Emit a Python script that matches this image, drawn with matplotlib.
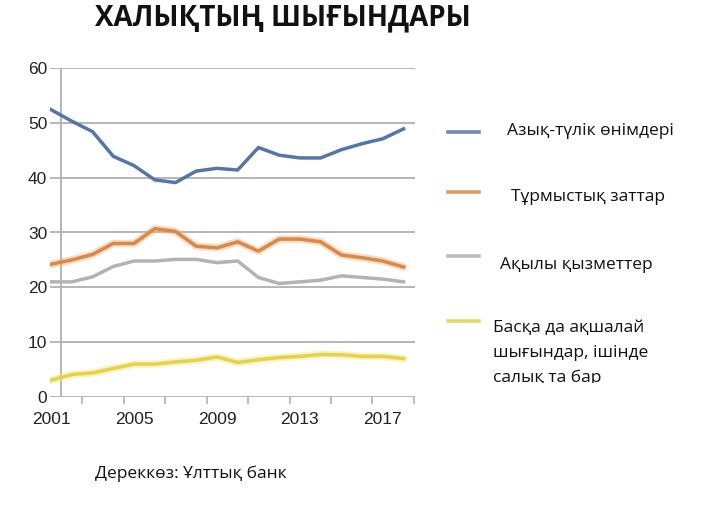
import matplotlib
matplotlib.use("Agg")
import matplotlib.pyplot as plt
from matplotlib.lines import Line2D
from matplotlib.transforms import Bbox

years = list(range(2001, 2019))
food = [52.4, 50.3, 48.4, 43.9, 42.2, 39.6, 39.1, 41.2, 41.7, 41.4, 45.5, 44.1, 43.6, 43.6, 45.1, 46.2, 47.1, 48.9]
goods = [24.2, 25.0, 26.0, 28.0, 28.0, 30.7, 30.2, 27.5, 27.2, 28.3, 26.6, 28.8, 28.8, 28.3, 25.9, 25.4, 24.8, 23.7]
services = [21.0, 21.0, 21.9, 23.8, 24.8, 24.8, 25.1, 25.1, 24.5, 24.8, 21.8, 20.7, 21.0, 21.3, 22.1, 21.8, 21.5, 21.0]
other = [3.05, 4.1, 4.4, 5.2, 6.0, 6.0, 6.4, 6.7, 7.3, 6.3, 6.8, 7.2, 7.4, 7.75, 7.7, 7.4, 7.4, 7.0]

series_labels = ["Азық-түлік өнімдері", "Тұрмыстық заттар", "Ақылы қызметтер",
                 "Басқа да ақшалай\nшығындар, ішінде\nсалық та бар"]
colors = ["#5476a6", "#d8884a", "#b3b3b3", "#e3d24a"]
glow = [None, "#f2b47a", None, "#f4e680"]
xtick_labels = [2001, 2005, 2009, 2013, 2017]
yticks = [0, 10, 20, 30, 40, 50, 60]

title = "ХАЛЫҚТЫҢ ШЫҒЫНДАРЫ"
source = "Дереккөз: Ұлттық банк"

W, H = 703, 511
fig = plt.figure(figsize=(W / 100, H / 100), dpi=100)
fig.patch.set_facecolor("white")

ax = fig.add_axes([50 / W, 1 - 397 / H, (415 - 50) / W, (397 - 68) / H])
ax.set_xlim(2000.95, 2018.55)
ax.set_ylim(0, 60)
for s in ax.spines.values():
    s.set_visible(False)

grid_c = "#b0b0b0"
for yv in yticks:
    ax.axhline(yv, color=grid_c, lw=1.3, zorder=1)
ax.plot([2001.5, 2001.5], [0, 60], color=grid_c, lw=1.3, zorder=1)

data = [food, goods, services, other]
for vals, c, g in zip(data, colors, glow):
    if g:
        ax.plot(years, vals, color=g, lw=5.5, alpha=0.45, solid_capstyle="round", zorder=2)
    ax.plot(years, vals, color=c, lw=2.5, solid_joinstyle="round", zorder=3)

ax.set_yticks(yticks)
ax.set_yticklabels([str(v) for v in yticks])
ax.set_xticks(xtick_labels)
ax.set_xticklabels([str(v) for v in xtick_labels])
ax.set_xticks([2002.5 + 2 * i for i in range(9)], minor=True)
ax.tick_params(axis="y", length=0, pad=2, labelsize=12.5, labelcolor="#222222")
ax.tick_params(axis="x", which="major", length=0, pad=11, labelsize=12.5, labelcolor="#222222")
ax.tick_params(axis="x", which="minor", length=5, width=1.2, color=grid_c, direction="out")
for lab in ax.get_xticklabels() + ax.get_yticklabels():
    lab.set_fontfamily(["Liberation Sans", "DejaVu Sans"])

fig.text(283 / W, 1 - 18 / H, title, ha="center", va="center",
         fontsize=20, fontweight="bold", family=["Open Sans", "DejaVu Sans"], color="#111111")

leg_y = [132, 192, 256, 321]
text_x = [507, 511, 500, 493]
text_y = [131, 197, 265, 330]
for i in range(4):
    fig.add_artist(Line2D([448 / W, 479 / W], [1 - leg_y[i] / H] * 2, color=colors[i],
                          lw=2.6, alpha=0.85, transform=fig.transFigure))
    if i < 3:
        fig.text(text_x[i] / W, 1 - text_y[i] / H, series_labels[i], ha="left", va="center",
                 fontsize=12.5, family=["Open Sans", "DejaVu Sans"], color="#111111")
    else:
        t = fig.text(text_x[i] / W, 1 - 320 / H, series_labels[i], ha="left", va="top",
                     fontsize=12.5, family=["Open Sans", "DejaVu Sans"], color="#111111",
                     linespacing=1.72)
        t.set_clip_on(True)
        t.set_clip_box(Bbox([[0, H - 383], [W, H]]))

fig.text(95 / W, 1 - 474 / H, source, ha="left", va="center",
         fontsize=12.5, family=["Open Sans", "DejaVu Sans"], color="#111111")

fig.savefig("out.png", dpi=100, facecolor="white")
